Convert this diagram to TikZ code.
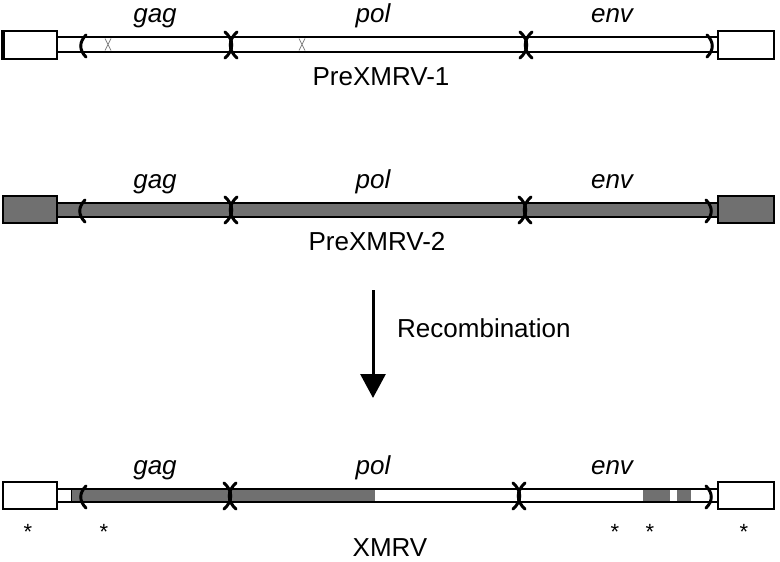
\documentclass[tikz,border=0pt]{standalone}
\usepackage{fontspec}
\setmainfont{Liberation Sans}
\usetikzlibrary{arrows.meta}
\definecolor{fillgray}{RGB}{112,112,112}
\tikzset{
  lbl/.style={font=\fontsize{26}{30}\selectfont, inner sep=0pt, anchor=base},
  gene/.style={lbl, font=\fontsize{26}{30}\selectfont\itshape},
  ltr/.style={draw=black, line width=2.4pt},
  tubeline/.style={line width=2.4pt, black},
  brk/.style={line width=3pt, black, line cap=round},
  thinx/.style={line width=0.8pt, gray},
  star/.style={font=\fontsize{22}{26}\selectfont, inner sep=0pt}
}
% bracket macros: #1 = x, #2 = y centre
\newcommand{\lbrk}[2]{\draw[brk] (#1+3,#2-11) .. controls (#1-4,#2-4) and (#1-4,#2+4) .. (#1+3,#2+11);}
\newcommand{\rbrk}[2]{\draw[brk] (#1-3,#2-11) .. controls (#1+4,#2-4) and (#1+4,#2+4) .. (#1-3,#2+11);}
\newcommand{\dbrk}[2]{\draw[brk] (#1-6,#2-13) .. controls (#1+3,#2-5) and (#1+3,#2+5) .. (#1-6,#2+13);
  \draw[brk] (#1+6,#2-13) .. controls (#1-3,#2-5) and (#1-3,#2+5) .. (#1+6,#2+13);}
\begin{document}
\begin{tikzpicture}[x=1pt,y=-1pt]
\useasboundingbox (0,0) rectangle (780,562);
\fill[white] (0,0) rectangle (780,562);

% ---------------- Row 1: PreXMRV-1 ----------------
\fill[white] (57,37) rectangle (718,52);
\draw[tubeline] (57,37) -- (718,37);
\draw[tubeline] (57,52) -- (718,52);
\draw[ltr, fill=white] (3,31) rectangle (57,59);
\draw[ltr, fill=white] (718,31) rectangle (774,59);
\draw[line width=4pt] (3,30) -- (3,60);
\lbrk{83}{46}
\dbrk{231}{45}
\dbrk{526}{45}
\rbrk{710}{46}
\draw[thinx] (105,38.5) -- (111,50.5) (111,38.5) -- (105,50.5);
\draw[thinx] (299,38.5) -- (305,50.5) (305,38.5) -- (299,50.5);
\node[gene] (gag1) at (155,23) {gag};
\node[gene] (pol1) at (373,23) {pol};
\node[gene] (env1) at (612,23) {env};
\node[lbl] (name1) at (381,85) {PreXMRV-1};

% ---------------- Row 2: PreXMRV-2 ----------------
\fill[fillgray] (57,203) rectangle (718,217);
\draw[tubeline] (57,203) -- (718,203);
\draw[tubeline] (57,217) -- (718,217);
\draw[ltr, fill=fillgray] (3,196) rectangle (57,223);
\draw[ltr, fill=fillgray] (718,196) rectangle (774,223);
\lbrk{82}{211}
\dbrk{231}{210}
\dbrk{525}{210}
\rbrk{709}{211}
\node[gene] (gag2) at (155,188) {gag};
\node[gene] (pol2) at (373,188) {pol};
\node[gene] (env2) at (612,188) {env};
\node[lbl] (name2) at (377,250) {PreXMRV-2};

% ---------------- Arrow ----------------
\coordinate (atop) at (373,290);
\coordinate (abot) at (373,398);
\draw[line width=3pt, -{Triangle[width=25pt,length=24pt]}] (atop) -- (abot);
\node[lbl, anchor=base west] (rec) at (397,337) {Recombination};

% ---------------- Row 3: XMRV ----------------
\fill[white] (57,489) rectangle (718,502);
\fill[fillgray] (71,489) rectangle (375,502);
\fill[fillgray] (643,489) rectangle (670,502);
\fill[fillgray] (677,489) rectangle (691,502);
\draw[line width=1pt] (71,489) -- (71,502);
\draw[tubeline] (57,489) -- (718,489);
\draw[tubeline] (57,502) -- (718,502);
\draw[ltr, fill=white] (3,482) rectangle (57,509);
\draw[ltr, fill=white] (718,482) rectangle (774,509);
\lbrk{83}{497}
\dbrk{230}{496}
\dbrk{519}{496}
\rbrk{709}{497}
\node[gene] (gag3) at (155,474) {gag};
\node[gene] (pol3) at (373,474) {pol};
\node[gene] (env3) at (612,474) {env};
\node[star] (s1) at (28,532) {*};
\node[star] (s2) at (104,532) {*};
\node[star] (s3) at (615,532) {*};
\node[star] (s4) at (650,532) {*};
\node[star] (s5) at (744,532) {*};
\node[lbl] (name3) at (390,556) {XMRV};
\end{tikzpicture}
\end{document}
